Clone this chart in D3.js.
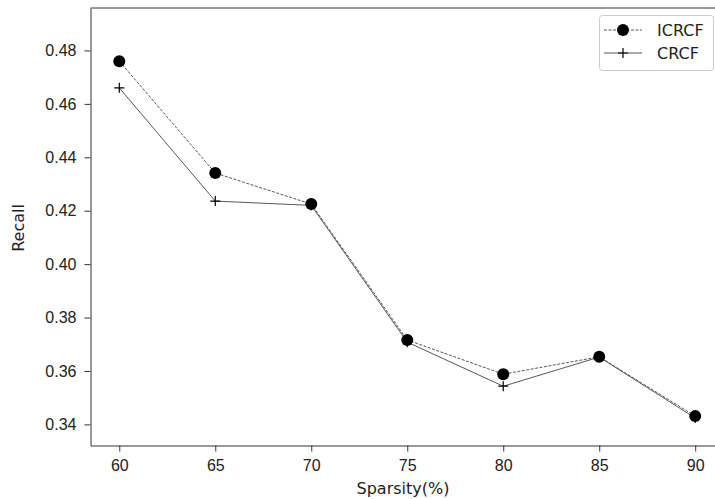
<!DOCTYPE html>
<html lang="en">
<head>
<meta charset="UTF-8">
<title>Recall vs Sparsity</title>
<script src="https://d3js.org/d3.v7.min.js"></script>
<style>
    body { margin: 0; background: #fff; }
    svg { display: block; font-family: "DejaVu Sans", sans-serif; }
    .axis text { font-size: 16px; fill: #222; }
    .axis path, .axis line { stroke: #333; }
</style>
</head>
<body>
<script>
// data
const sparsity = [60, 65, 70, 75, 80, 85, 90];
const icrcf = [0.476, 0.4341, 0.4225, 0.3716, 0.3588, 0.3653, 0.3431];
const crcf = [0.466, 0.4236, 0.422, 0.3708, 0.3543, 0.3652, 0.3424];
const yTicks = [0.34, 0.36, 0.38, 0.40, 0.42, 0.44, 0.46, 0.48];

const W = 715, H = 499;
const svg = d3.select("body").append("svg").attr("width", W).attr("height", H);

const x = d3.scaleLinear().domain([58.5, 91.5]).range([90.5, 724]);
const y = d3.scaleLinear().domain([0.3321, 0.4959]).range([445.5, 8]);

// axes
svg.append("g").attr("class", "axis")
    .attr("transform", "translate(0,445.5)")
    .call(d3.axisBottom(x).tickValues(sparsity).tickSize(6).tickPadding(8).tickSizeOuter(0));
svg.append("g").attr("class", "axis")
    .attr("transform", "translate(90.5,0)")
    .call(d3.axisLeft(y).tickValues(yTicks).tickFormat(d3.format(".2f")).tickSize(6).tickPadding(8).tickSizeOuter(0));

// top spine
svg.append("line").attr("x1", 90.5).attr("x2", W).attr("y1", 8).attr("y2", 8)
    .attr("stroke", "#333");

// labels
svg.append("text").attr("x", 403).attr("y", 494).attr("text-anchor", "middle")
    .attr("font-size", 16).attr("fill", "#222").text("Sparsity(%)");
svg.append("text").attr("transform", "translate(24,228) rotate(-90)").attr("text-anchor", "middle")
    .attr("font-size", 16).attr("fill", "#222").text("Recall");

const line = d3.line().x((d, i) => x(sparsity[i])).y(d => y(d));

// CRCF
svg.append("path").datum(crcf).attr("d", line)
    .attr("fill", "none").attr("stroke", "#444").attr("stroke-width", 0.9);
svg.selectAll(".plus").data(crcf).enter().append("path")
    .attr("d", (d, i) => `M${x(sparsity[i]) - 5},${y(d)}h10M${x(sparsity[i])},${y(d) - 5}v10`)
    .attr("stroke", "#000").attr("stroke-width", 1.2);

// ICRCF
svg.append("path").datum(icrcf).attr("d", line)
    .attr("fill", "none").attr("stroke", "#444").attr("stroke-width", 0.9)
    .attr("stroke-dasharray", "3,1.5");
svg.selectAll(".dot").data(icrcf).enter().append("circle")
    .attr("cx", (d, i) => x(sparsity[i])).attr("cy", d => y(d)).attr("r", 6)
    .attr("fill", "#000");

// legend
const lg = svg.append("g");
lg.append("rect").attr("x", 599.5).attr("y", 15.5).attr("width", 114).attr("height", 55)
    .attr("rx", 3).attr("fill", "#fff").attr("stroke", "#ccc");
lg.append("line").attr("x1", 604).attr("x2", 642).attr("y1", 30).attr("y2", 30)
    .attr("stroke", "#444").attr("stroke-width", 0.9).attr("stroke-dasharray", "3,1.5");
lg.append("circle").attr("cx", 623).attr("cy", 30).attr("r", 6).attr("fill", "#000");
lg.append("line").attr("x1", 604).attr("x2", 642).attr("y1", 53).attr("y2", 53)
    .attr("stroke", "#444").attr("stroke-width", 0.9);
lg.append("path").attr("d", "M618,53h10M623,48v10").attr("stroke", "#000").attr("stroke-width", 1.2);
lg.append("text").attr("x", 657).attr("y", 36).attr("font-size", 16).attr("fill", "#222").text("ICRCF");
lg.append("text").attr("x", 657).attr("y", 59).attr("font-size", 16).attr("fill", "#222").text("CRCF");
</script>
</body>
</html>
